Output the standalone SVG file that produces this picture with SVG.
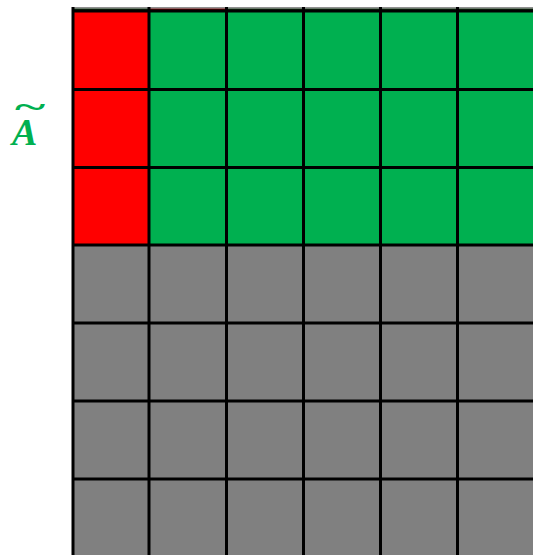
<svg xmlns="http://www.w3.org/2000/svg" width="533" height="555" viewBox="0 0 533 555">
<style>
.r{fill:#ff0000}.g{fill:#00b050}.k{fill:#808080}
.ln{stroke:#000;stroke-width:3;fill:none}
.lbl{font-family:"Liberation Serif",serif;font-weight:bold;font-style:italic;fill:#00b050}
</style>
<rect width="533" height="555" fill="#fff"/>
<g id="cells">
<rect class="r" x="73" y="11" width="76" height="234"/>
<rect class="g" x="149" y="11" width="384" height="234"/>
<rect class="k" x="73" y="245" width="460" height="310"/>
<rect x="73" y="7" width="460" height="1.5" fill="#909090"/>
<rect x="73" y="8.5" width="76" height="2" fill="#103010"/>
<rect x="149" y="8.5" width="78" height="2" fill="#600000"/>
<rect x="227" y="8.5" width="306" height="2" fill="#103010"/>
</g>
<g id="grid" class="ln">
<line x1="73" y1="11" x2="533" y2="11"/>
<line x1="73" y1="89.5" x2="533" y2="89.5"/>
<line x1="73" y1="167.5" x2="533" y2="167.5"/>
<line x1="73" y1="245" x2="533" y2="245"/>
<line x1="73" y1="323" x2="533" y2="323"/>
<line x1="73" y1="401" x2="533" y2="401"/>
<line x1="73" y1="479" x2="533" y2="479"/>
<line x1="73" y1="7" x2="73" y2="555"/>
<line x1="149" y1="7" x2="149" y2="555"/>
<line x1="226.5" y1="7" x2="226.5" y2="555"/>
<line x1="303.5" y1="7" x2="303.5" y2="555"/>
<line x1="380.5" y1="7" x2="380.5" y2="555"/>
<line x1="457.5" y1="7" x2="457.5" y2="555"/>
</g>
<g id="label">
<text class="lbl" x="12" y="145" font-size="38">A</text>
<text class="lbl" x="0" y="0" font-size="40" font-style="normal" transform="translate(13,117) scale(1.45,0.8)">~</text>
</g>
</svg>
